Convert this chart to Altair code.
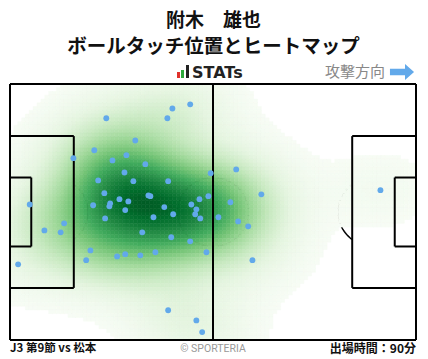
import numpy as np
import pandas as pd
import altair as alt

# ---- data: ball touch positions (metres, x from own goal, y from top touchline)
touch_x = [24.9, 42.0, 46.6, 40.7, 32.4, 21.8, 16.4, 30.1, 26.5, 35.0,
           29.6, 51.9, 58.5, 22.8, 31.9, 40.9, 5.1, 24.4, 28.3, 30.6,
           35.8, 36.3, 25.9, 25.7, 21.5, 29.8, 39.9, 42.2, 49.0, 51.3,
           46.9, 48.2, 47.9, 49.2, 24.6, 37.1, 53.9, 65.0, 57.0, 95.8,
           14.0, 8.9, 13.1, 34.2, 41.7, 46.6, 20.8, 19.7, 27.7, 29.8,
           33.7, 37.6, 50.8, 2.1, 40.9, 48.2, 49.7, 59.0, 61.6, 62.7]
touch_y = [9.1, 6.5, 5.4, 9.1, 15.0, 17.6, 19.7, 18.9, 20.3, 21.3,
           23.5, 23.7, 22.7, 25.6, 25.8, 25.8, 32.0, 29.0, 30.6, 31.2,
           29.6, 29.8, 31.7, 32.5, 32.2, 33.5, 32.7, 34.6, 30.6, 29.8,
           32.0, 33.3, 34.6, 35.7, 35.7, 35.4, 35.4, 29.3, 31.4, 28.2,
           37.0, 38.9, 39.4, 39.4, 40.7, 41.8, 44.2, 46.8, 45.8, 45.2,
           45.5, 44.7, 44.7, 47.9, 60.1, 62.8, 65.9, 36.5, 37.8, 46.8]

title_name = "附木　雄也"
title_sub = "ボールタッチ位置とヒートマップ"
match_label = "J3 第9節 vs 松本"
minutes_label = "出場時間：90分"
credit_label = "© SPORTERIA"
direction_label = "攻撃方向"

PITCH_L, PITCH_W = 105.0, 68.0
BOX_D, BOX_W = 16.5, 40.32
GOAL_D, GOAL_W = 5.5, 18.32
CIRCLE_R, SPOT_D = 9.15, 11.0

BW_ADJUST = 1.2
THRESH_FRAC = 0.025
GAMMA = 1.0
TOP = 0.92
GREENS = ["#f7fcf5", "#e5f5e0", "#c7e9c0", "#a1d99b", "#74c476",
          "#41ab5d", "#238b45", "#006d2c", "#00441b"]

# ---- kernel density estimate of the touches (Gaussian KDE, Scott's rule)
pts = np.vstack([touch_x, touch_y])
n = pts.shape[1]
factor = n ** (-1.0 / 6.0) * BW_ADJUST
kcov = np.cov(pts) * factor ** 2
inv = np.linalg.inv(kcov)
step = 1.0
gx = np.arange(step / 2, PITCH_L, step)
gy = np.arange(step / 2, PITCH_W, step)
GX, GY = np.meshgrid(gx, gy)
dx = GX[..., None] - pts[0]
dy = GY[..., None] - pts[1]
q = inv[0, 0] * dx * dx + 2 * inv[0, 1] * dx * dy + inv[1, 1] * dy * dy
dens = np.exp(-0.5 * q).sum(-1)
thr = dens.max() * THRESH_FRAC
norm = (dens - thr) / (dens.max() - thr)
heat = pd.DataFrame({
    "x": (GX - step / 2).ravel(), "x2": (GX + step / 2).ravel(),
    "y": (GY - step / 2).ravel(), "y2": (GY + step / 2).ravel(),
    "d": norm.ravel(),
})
heat = heat[heat["d"] >= 0].copy()
heat["c"] = TOP * heat["d"] ** GAMMA

# ---- pitch geometry
yb0, yb1 = (PITCH_W - BOX_W) / 2, (PITCH_W + BOX_W) / 2
yg0, yg1 = (PITCH_W - GOAL_W) / 2, (PITCH_W + GOAL_W) / 2
segs = [
    (0, 0, PITCH_L, 0), (0, PITCH_W, PITCH_L, PITCH_W),
    (0, 0, 0, PITCH_W), (PITCH_L, 0, PITCH_L, PITCH_W),
    (PITCH_L / 2, 0, PITCH_L / 2, PITCH_W),
    (0, yb0, BOX_D, yb0), (0, yb1, BOX_D, yb1), (BOX_D, yb0, BOX_D, yb1),
    (0, yg0, GOAL_D, yg0), (0, yg1, GOAL_D, yg1), (GOAL_D, yg0, GOAL_D, yg1),
    (PITCH_L, yb0, PITCH_L - BOX_D, yb0), (PITCH_L, yb1, PITCH_L - BOX_D, yb1),
    (PITCH_L - BOX_D, yb0, PITCH_L - BOX_D, yb1),
    (PITCH_L, yg0, PITCH_L - GOAL_D, yg0), (PITCH_L, yg1, PITCH_L - GOAL_D, yg1),
    (PITCH_L - GOAL_D, yg0, PITCH_L - GOAL_D, yg1),
]
lines = pd.DataFrame(segs, columns=["x", "y", "x2", "y2"])

arc_rows = []
t = np.linspace(0, 2 * np.pi, 121)
for i, a in enumerate(t):
    arc_rows.append({"g": "c", "o": i, "x": PITCH_L / 2 + CIRCLE_R * np.cos(a),
                     "y": PITCH_W / 2 + CIRCLE_R * np.sin(a)})
lim = np.arccos((BOX_D - SPOT_D) / CIRCLE_R)
for i, a in enumerate(np.linspace(-lim, lim, 41)):
    arc_rows.append({"g": "l", "o": i, "x": SPOT_D + CIRCLE_R * np.cos(a),
                     "y": PITCH_W / 2 + CIRCLE_R * np.sin(a)})
    arc_rows.append({"g": "r", "o": i, "x": PITCH_L - SPOT_D - CIRCLE_R * np.cos(a),
                     "y": PITCH_W / 2 + CIRCLE_R * np.sin(a)})
arcs = pd.DataFrame(arc_rows)

touches = pd.DataFrame({"x": touch_x, "y": touch_y})

xs = alt.Scale(domain=[0, PITCH_L], nice=False, zero=False)
ys = alt.Scale(domain=[0, PITCH_W], nice=False, zero=False, reverse=True)

arc_layer = alt.Chart(arcs).mark_line(color="black", strokeWidth=1.5).encode(
    x=alt.X("x:Q", scale=xs, axis=None),
    y=alt.Y("y:Q", scale=ys, axis=None),
    detail="g:N", order="o:Q")

cdom = list(np.linspace(0, 1, len(GREENS)))
cscale = alt.Scale(domain=cdom, range=GREENS, interpolate="rgb")
heat_layer = alt.Chart(heat).mark_rect(strokeWidth=0.6).encode(
    x=alt.X("x:Q", scale=xs, axis=None), x2="x2:Q",
    y=alt.Y("y:Q", scale=ys, axis=None), y2="y2:Q",
    color=alt.Color("c:Q", scale=cscale, legend=None),
    stroke=alt.Stroke("c:Q", scale=cscale, legend=None),
)

line_layer = alt.Chart(lines).mark_rule(color="black", strokeWidth=2).encode(
    x=alt.X("x:Q", scale=xs, axis=None), x2="x2:Q",
    y=alt.Y("y:Q", scale=ys, axis=None), y2="y2:Q")

pt_layer = alt.Chart(touches).mark_circle(size=34, color="#62a9ea", opacity=1).encode(
    x=alt.X("x:Q", scale=xs, axis=None),
    y=alt.Y("y:Q", scale=ys, axis=None))

jp = "Noto Sans CJK JP"
base = alt.Chart(pd.DataFrame({"a": [0]}))

def txt(text, x, y, size, align="center", color="#111", weight="bold", font=jp):
    return base.mark_text(text=text, align=align, baseline="middle", fontSize=size,
                          fontWeight=weight, color=color, font=font).encode(
        x=alt.value(x), y=alt.value(y))

t1 = txt(title_name, 203.5, -63, 19)
t2 = txt(title_sub, 203.5, -37, 19.5)
stats = txt("STATs", 182, -11, 16, align="left", color="#222", font="DejaVu Sans")
direc = txt(direction_label, 375, -12, 15, align="right", color="#888", weight="normal")
foot_l = txt(match_label, 0, 265, 11.5, align="left")
foot_c = txt(credit_label, 203, 265, 10.5, color="#999", weight="normal", font="Roboto")
foot_r = txt(minutes_label, 406, 265, 12, align="right")

arrow = base.mark_point(
    shape="M-1,-0.27 L0.25,-0.27 L0.25,-0.67 L1,0 L0.25,0.67 L0.25,0.27 L-1,0.27 Z",
    filled=True, color="#62a9ea", opacity=1, size=580).encode(
    x=alt.value(392), y=alt.value(-12))

logo = alt.layer(
    base.mark_rect(color="#e0312b").encode(x=alt.value(167), x2=alt.value(170), y=alt.value(-12), y2=alt.value(-6)),
    base.mark_rect(color="#2eaa3c").encode(x=alt.value(171), x2=alt.value(174), y=alt.value(-14), y2=alt.value(-6)),
    base.mark_rect(color="#222").encode(x=alt.value(176), x2=alt.value(179), y=alt.value(-19), y2=alt.value(-6)),
)

chart = alt.layer(
    arc_layer, heat_layer, line_layer, pt_layer,
    t1, t2, stats, direc, arrow, logo, foot_l, foot_c, foot_r,
).properties(
    width=406, height=256,
    autosize=alt.AutoSizeParams(type="none"),
    padding={"left": 10, "top": 84, "right": 12, "bottom": 19},
    background="white",
).configure_view(stroke=None)

chart.save("out.html", embed_options={"renderer": "svg", "actions": False})
